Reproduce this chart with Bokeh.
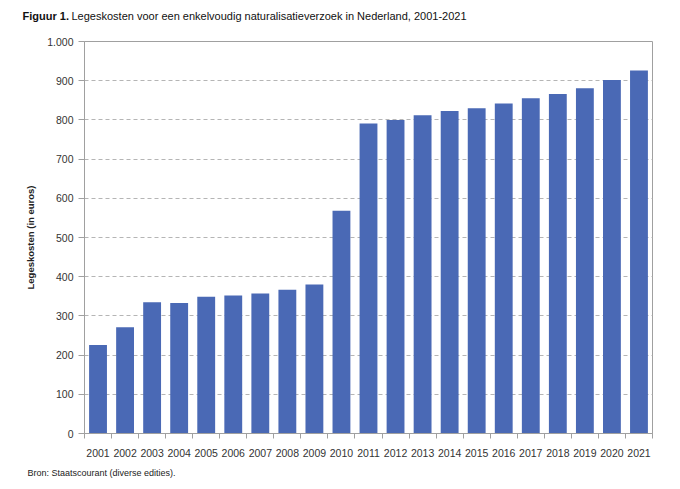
from bokeh.plotting import figure
from bokeh.models import FixedTicker, Label, Range1d
from bokeh.layouts import column
from bokeh.embed import file_html
from bokeh.resources import INLINE

years = [str(y) for y in range(2001, 2022)]
costs = [226, 271, 335, 333, 349, 352, 357, 367, 380, 568, 791, 800, 812, 823, 830, 842, 855, 866, 881, 902, 926]
yticks = [0, 100, 200, 300, 400, 500, 600, 700, 800, 900, 1000]
ytick_labels = ["0", "100", "200", "300", "400", "500", "600", "700", "800", "900", "1.000"]

FONT = "Liberation Sans"
BAR = "#4a69b5"
W = 664


def no_align(fig):
    try:
        fig.frame_align = False
    except Exception:
        pass


def text_strip(height):
    f = figure(width=W, height=height, output_backend="svg", toolbar_location=None,
               x_range=Range1d(0, W), y_range=Range1d(0, height), min_border=0)
    f.axis.visible = False
    f.grid.visible = False
    f.outline_line_color = None
    no_align(f)
    return f


# header with title
header = text_strip(30)
header.add_layout(Label(x=22, y=15, x_units="screen", y_units="screen", text="Figuur 1.",
                        text_font=FONT, text_font_style="bold", text_font_size="11px",
                        text_color="#111111", text_baseline="middle"))
header.add_layout(Label(x=71, y=15, x_units="screen", y_units="screen",
                        text="Legeskosten voor een enkelvoudig naturalisatieverzoek in Nederland, 2001-2021",
                        text_font=FONT, text_font_size="11px",
                        text_color="#111111", text_baseline="middle"))

xs = list(range(1, len(years) + 1))

p = figure(width=W, height=429, output_backend="svg", toolbar_location=None,
           x_range=Range1d(0.5, len(years) + 0.5), y_range=Range1d(0, 1000),
           min_border_left=84, min_border_right=12, min_border_top=11, min_border_bottom=25)
no_align(p)

p.vbar(x=xs, top=costs, width=0.66, fill_color=BAR, line_color=None)

p.outline_line_color = "#a0a0a0"
p.outline_line_width = 1

# y axis
p.yaxis.ticker = FixedTicker(ticks=yticks)
p.yaxis.major_label_overrides = {t: l for t, l in zip(yticks, ytick_labels)}
p.yaxis.minor_tick_line_color = None
p.yaxis.major_tick_out = 6
p.yaxis.major_tick_in = 0
p.yaxis.axis_line_color = "#a0a0a0"
p.yaxis.major_tick_line_color = "#a0a0a0"
p.yaxis.major_label_text_font = FONT
p.yaxis.major_label_text_font_size = "10.5px"
p.yaxis.major_label_text_color = "#333333"
p.yaxis.major_label_standoff = 5
p.yaxis.axis_label = "Legeskosten (in euros)"
p.yaxis.axis_label_text_font = FONT
p.yaxis.axis_label_text_font_style = "bold"
p.yaxis.axis_label_text_font_size = "9.5px"
p.yaxis.axis_label_text_color = "#222222"
p.yaxis.axis_label_standoff = 8

# x axis
p.xaxis.ticker = FixedTicker(ticks=xs, minor_ticks=[x + 0.5 for x in range(0, len(years) + 1)])
p.xaxis.major_label_overrides = {x: y for x, y in zip(xs, years)}
p.xaxis.major_tick_line_color = None
p.xaxis.minor_tick_out = 5
p.xaxis.minor_tick_in = 0
p.xaxis.minor_tick_line_color = "#a0a0a0"
p.xaxis.axis_line_color = "#a0a0a0"
p.xaxis.major_label_text_font = FONT
p.xaxis.major_label_text_font_size = "10.5px"
p.xaxis.major_label_text_color = "#333333"
p.xaxis.major_label_standoff = 9

p.xgrid.grid_line_color = None
p.ygrid.ticker = FixedTicker(ticks=yticks[1:-1])
p.ygrid.grid_line_color = "#b5b5b5"
p.ygrid.grid_line_dash = "4 3"

# footer with source
footer = text_strip(22)
footer.add_layout(Label(x=27, y=9, x_units="screen", y_units="screen",
                        text="Bron: Staatscourant (diverse edities).",
                        text_font=FONT, text_font_size="9px",
                        text_color="#222222", text_baseline="middle"))

page = column(header, p, footer, spacing=0)
open("out.html", "w").write(file_html(page, INLINE))
